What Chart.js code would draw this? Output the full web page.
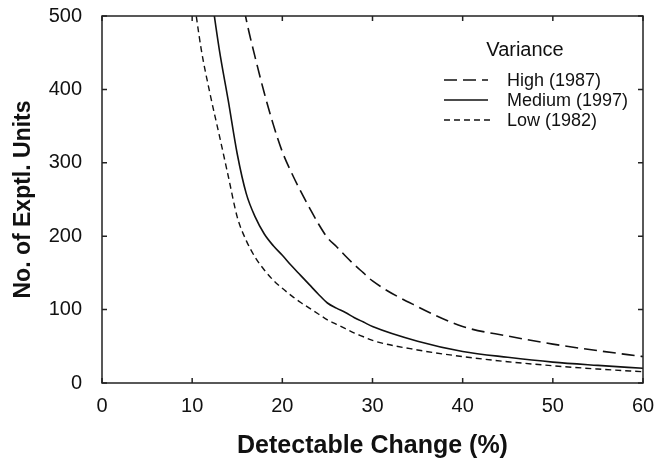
<!DOCTYPE html>
<html>
<head>
<meta charset="utf-8">
<script src="https://cdn.jsdelivr.net/npm/chart.js@4/dist/chart.umd.min.js"></script>
<style>
  html, body { margin: 0; padding: 0; background: #fff; }
  #wrap { width: 669px; height: 461px; }
</style>
</head>
<body>
<div id="wrap"><canvas id="c" width="669" height="461"></canvas></div>
<script>
// Detectable change (%) at which values were read
const changePct = [10, 11, 12, 13, 14, 15, 16, 17, 18, 19, 20, 21, 22, 23, 24, 25, 26, 27, 28, 29, 30, 35, 40, 45, 50, 55, 60];

// No. of experimental units (values above 500 fall outside the plot)
const highVar   = [null, null, null, null, null, 560, 495, 443, 395, 352, 315, 287, 262, 239, 217, 198, 186, 173, 161, 150, 139, 104, 77, 64, 53, 44, 36];
const mediumVar = [null, null, 540, 455, 385, 312, 258, 226, 203, 187, 174, 160, 147, 134, 121, 109, 102, 96, 89, 83, 77, 57, 43, 35, 28.5, 24, 20];
const lowVar    = [540, 455, 393, 338, 282, 226, 194, 171, 154, 140, 129, 119, 110, 102, 94, 86, 80, 74, 68, 63, 58, 45, 36, 29, 23.5, 19, 15.4];

const seriesLabels = ['High (1987)', 'Medium (1997)', 'Low (1982)'];
const legendTitle = 'Variance';
const xTitle = 'Detectable Change (%)';
const yTitle = 'No. of Exptl. Units';

const FONT = "'Liberation Sans', Arial, Helvetica, sans-serif";

function toPoints(ys) {
  return changePct.map((x, i) => ({ x: x, y: ys[i] }));
}

const boxPlugin = {
  id: 'boxTicks',
  afterDraw(chart) {
    const ctx = chart.ctx;
    const a = chart.chartArea;
    const xs = chart.scales.x, ys = chart.scales.y;
    ctx.save();
    ctx.strokeStyle = '#222';
    ctx.lineWidth = 1.5;
    ctx.setLineDash([]);
    ctx.strokeRect(a.left, a.top, a.right - a.left, a.bottom - a.top);
    const tl = 5;
    ctx.beginPath();
    xs.ticks.forEach(t => {
      const px = xs.getPixelForValue(t.value);
      ctx.moveTo(px, a.bottom); ctx.lineTo(px, a.bottom - tl);
      ctx.moveTo(px, a.top); ctx.lineTo(px, a.top + tl);
    });
    ys.ticks.forEach(t => {
      const py = ys.getPixelForValue(t.value);
      ctx.moveTo(a.left, py); ctx.lineTo(a.left + tl, py);
      ctx.moveTo(a.right, py); ctx.lineTo(a.right - tl, py);
    });
    ctx.stroke();

    // legend inside the plot, top-right
    const lx0 = a.right - 199, lx1 = a.right - 155, tx = a.right - 136;
    ctx.fillStyle = '#111';
    ctx.font = '20px ' + FONT;
    ctx.textAlign = 'center';
    ctx.textBaseline = 'middle';
    ctx.fillText(legendTitle, a.right - 118, a.top + 34);
    ctx.font = '18px ' + FONT;
    ctx.textAlign = 'left';
    chart.data.datasets.forEach((ds, i) => {
      const y = a.top + 64 + i * 20;
      ctx.strokeStyle = ds.borderColor;
      ctx.lineWidth = ds.borderWidth;
      ctx.setLineDash(ds.borderDash || []);
      ctx.beginPath();
      ctx.moveTo(lx0, y); ctx.lineTo(lx1 + (i === 2 ? 4 : 0), y);
      ctx.stroke();
      ctx.fillText(ds.label, tx, y + 1);
    });
    ctx.restore();
  }
};

new Chart(document.getElementById('c'), {
  type: 'line',
  data: {
    datasets: [
      { label: seriesLabels[0], data: toPoints(highVar), borderColor: '#111', borderWidth: 1.6, borderDash: [13, 6], pointRadius: 0, cubicInterpolationMode: 'monotone', fill: false },
      { label: seriesLabels[1], data: toPoints(mediumVar), borderColor: '#111', borderWidth: 1.6, borderDash: [], pointRadius: 0, cubicInterpolationMode: 'monotone', fill: false },
      { label: seriesLabels[2], data: toPoints(lowVar), borderColor: '#111', borderWidth: 1.4, borderDash: [6, 4], pointRadius: 0, cubicInterpolationMode: 'monotone', fill: false }
    ]
  },
  options: {
    responsive: false,
    animation: false,
    devicePixelRatio: 1,
    layout: { padding: { left: 0, right: 26, top: 16, bottom: 0 } },
    plugins: { legend: { display: false }, tooltip: { enabled: false } },
    scales: {
      x: {
        type: 'linear', min: 0, max: 60,
        grid: { display: false, drawTicks: false },
        border: { display: false },
        ticks: { stepSize: 10, padding: 11, color: '#111', font: { family: FONT, size: 20 } },
        title: { display: true, text: xTitle, color: '#111', font: { family: FONT, size: 25, weight: 'bold' }, padding: { top: 0, bottom: 0 } },
        afterFit(s) { s.height = 78; }
      },
      y: {
        type: 'linear', min: 0, max: 500,
        grid: { display: false, drawTicks: false },
        border: { display: false },
        ticks: { stepSize: 100, padding: 20, color: '#111', font: { family: FONT, size: 20 } },
        title: { display: true, text: yTitle, color: '#111', font: { family: FONT, size: 23, weight: 'bold' }, padding: { top: 10, bottom: 0 } },
        afterFit(s) { s.width = 102; s.paddingTop = 0; s.paddingBottom = 0; }
      }
    }
  },
  plugins: [boxPlugin]
});
</script>
</body>
</html>
